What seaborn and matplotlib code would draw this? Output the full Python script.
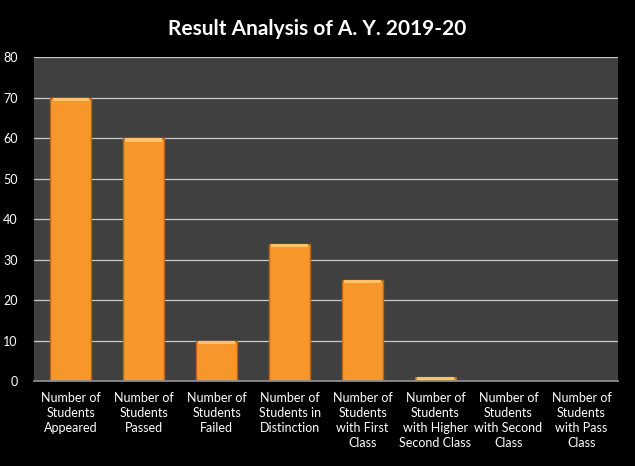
import pandas as pd
import seaborn as sns
import matplotlib.pyplot as plt

# data
categories = [
    "Number of\nStudents\nAppeared",
    "Number of\nStudents\nPassed",
    "Number of\nStudents\nFailed",
    "Number of\nStudents in\nDistinction",
    "Number of\nStudents\nwith First\nClass",
    "Number of\nStudents\nwith Higher\nSecond Class",
    "Number of\nStudents\nwith Second\nClass",
    "Number of\nStudents\nwith Pass\nClass",
]
counts = [70, 60, 10, 34, 25, 1, 0, 0]
y_ticks = [0, 10, 20, 30, 40, 50, 60, 70, 80]

df = pd.DataFrame({"category": categories, "count": counts})

sns.set_theme(style="dark")
plt.rcParams['font.family'] = ['Lato', 'DejaVu Sans']

fig = plt.figure(figsize=(6.35, 4.66), dpi=100, facecolor="black")
ax = fig.add_axes([0.054, 0.182, 0.919, 0.695])
ax.set_facecolor("#404040")

sns.barplot(data=df, x="category", y="count", color="#F7962B",
            edgecolor="#B9661A", linewidth=1.0, width=0.56, saturation=1, ax=ax)

# lighter cap on top of each bar
for p in ax.patches:
    h = p.get_height()
    if h > 0:
        ax.add_patch(plt.Rectangle((p.get_x() + 0.03, h - 0.8), p.get_width() - 0.06, 0.8,
                                   color="#FFC46A", zorder=3, linewidth=0))

ax.set_ylim(0, 80)
ax.set_yticks(y_ticks)
ax.yaxis.grid(True, color="#C8C8C8", linewidth=0.9)
ax.set_axisbelow(True)
for s in ["left", "right", "top"]:
    ax.spines[s].set_visible(False)
ax.spines["bottom"].set_visible(True)
ax.spines["bottom"].set_color("#909090")

ax.set_xlabel("")
ax.set_ylabel("")
ax.tick_params(axis="both", colors="white", labelsize=9, length=0)
ax.tick_params(axis="y", pad=12)
ax.tick_params(axis="x", pad=8)
for lbl in ax.get_xticklabels():
    lbl.set_linespacing(1.3)

fig.text(0.5, 0.937, "Result Analysis of A. Y. 2019-20", color="white",
         fontsize=15, fontweight="bold", ha="center", va="center")

fig.savefig("out.png", dpi=100, facecolor="black")
